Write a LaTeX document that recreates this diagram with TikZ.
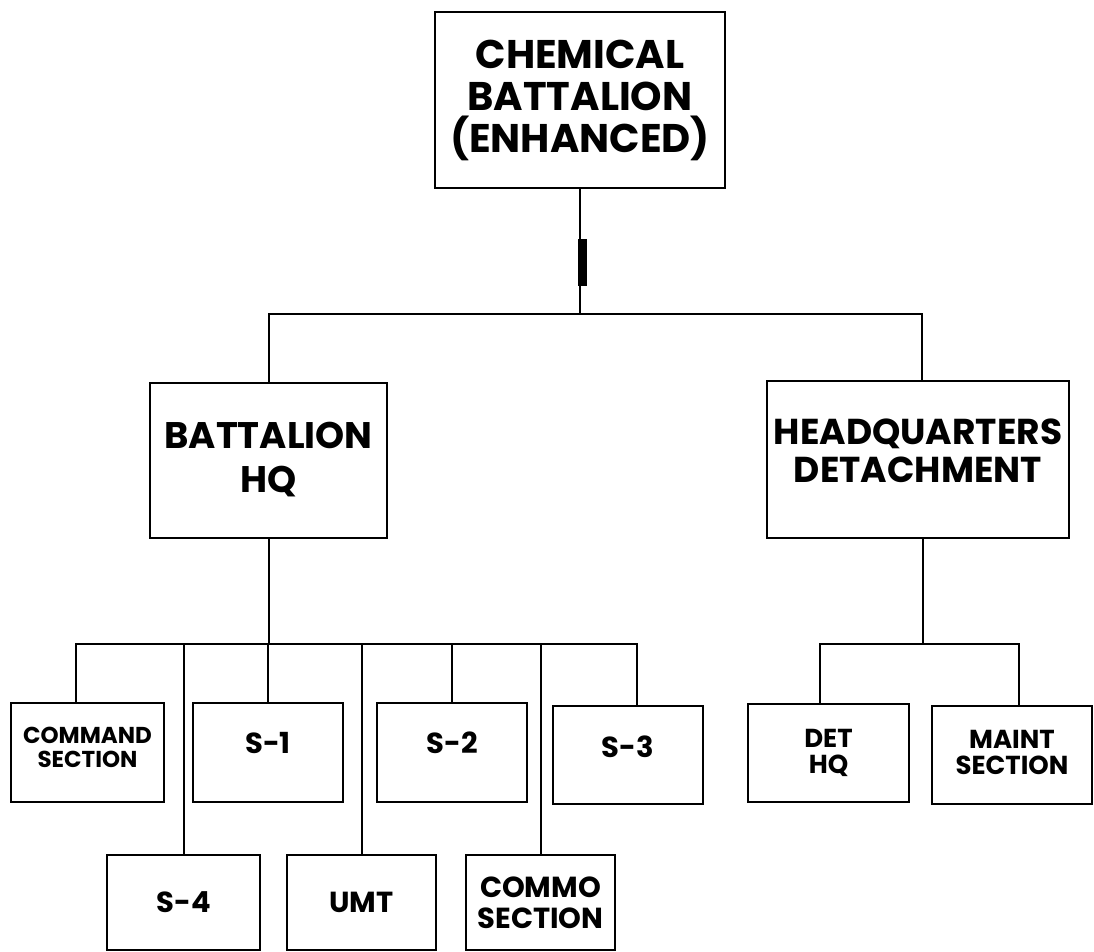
\documentclass[tikz,border=0pt]{standalone}
\usepackage{fontspec}
\setmainfont{Poppins}
\usetikzlibrary{positioning}

\begin{document}
\begin{tikzpicture}[x=1pt,y=-1pt]
   \tikzstyle{box}=[draw,line width=2pt,inner sep=0pt,align=center]
   \tikzstyle{ln}=[line width=2pt]
   \tikzstyle{huge}=[font=\bfseries\fontsize{40}{42}\selectfont]
   \tikzstyle{mid}=[font=\bfseries\fontsize{36}{38}\selectfont]
   \tikzstyle{sm}=[font=\bfseries\fontsize{29}{31}\selectfont]
   \tikzstyle{tiny}=[font=\bfseries\fontsize{26}{26}\selectfont]
   \tikzstyle{wee}=[font=\bfseries\fontsize{23}{24}\selectfont]

   \useasboundingbox (0,0) rectangle (1094,952);

   % top and second level
   \node (chem) [box,huge,minimum width=290,minimum height=176] at (580,100) {CHEMICAL\\BATTALION\\(ENHANCED)};
   \node (bhq) [box,huge,font=\bfseries\fontsize{37}{44}\selectfont,minimum width=237,minimum height=155,text depth=6] at (268.5,460.5) {BATTALION\\HQ};
   \node (hqd) [box,mid,minimum width=302,minimum height=157,text depth=18] at (918,459.5) {HEADQUARTERS\\DETACHMENT};

   % battalion hq sections
   \node (cmd) [box,wee,minimum width=153,minimum height=99,text depth=10] at (87.5,752.5) {COMMAND\\SECTION};
   \node (s1) [box,sm,minimum width=150,minimum height=99,text height=20,text depth=18] at (268,752.5) {S-1};
   \node (s2) [box,sm,minimum width=150,minimum height=99,text height=20,text depth=18] at (452,752.5) {S-2};
   \node (s3) [box,sm,minimum width=150,minimum height=98,text height=20,text depth=16] at (628,755) {S-3};
   \node (s4) [box,sm,minimum width=153,minimum height=95] at (183.5,902.5) {S-4};
   \node (umt) [box,sm,minimum width=149,minimum height=95] at (361.5,902.5) {UMT};
   \node (commo) [box,sm,minimum width=149,minimum height=95] at (540.5,902.5) {COMMO\\SECTION};

   % detachment sections
   \node (dethq) [box,tiny,minimum width=161,minimum height=98] at (828.5,753) {DET\\HQ};
   \node (maint) [box,tiny,minimum width=160,minimum height=98,text depth=6] at (1012,755) {MAINT\\SECTION};

   \coordinate (top) at (0,314);
   \coordinate (low) at (0,644);

   \draw[ln] (chem.south) -- (chem.south |- top);
   \fill ([shift={(-2,50)}]chem.south) rectangle ++(9,47);
   \draw[ln] (bhq.north) -- (bhq.north |- top) -- ([xshift=4]hqd.north |- top) -- ([xshift=4]hqd.north);

   \draw[ln] (bhq.south) -- (bhq.south |- low);
   \draw[ln] ([xshift=-12]cmd.north) -- ([xshift=-12]cmd.north |- low) -- ([xshift=9]s3.north |- low) -- ([xshift=9]s3.north);
   \foreach \n in {s1,s2,s4,umt,commo}
      \draw[ln] (\n.north) -- (\n.north |- low);

   \draw[ln] ([xshift=5]hqd.south) -- ([xshift=5]hqd.south |- low);
   \draw[ln] ([xshift=-9]dethq.north) -- ([xshift=-9]dethq.north |- low) -- ([xshift=7]maint.north |- low) -- ([xshift=7]maint.north);
\end{tikzpicture}
\end{document}
